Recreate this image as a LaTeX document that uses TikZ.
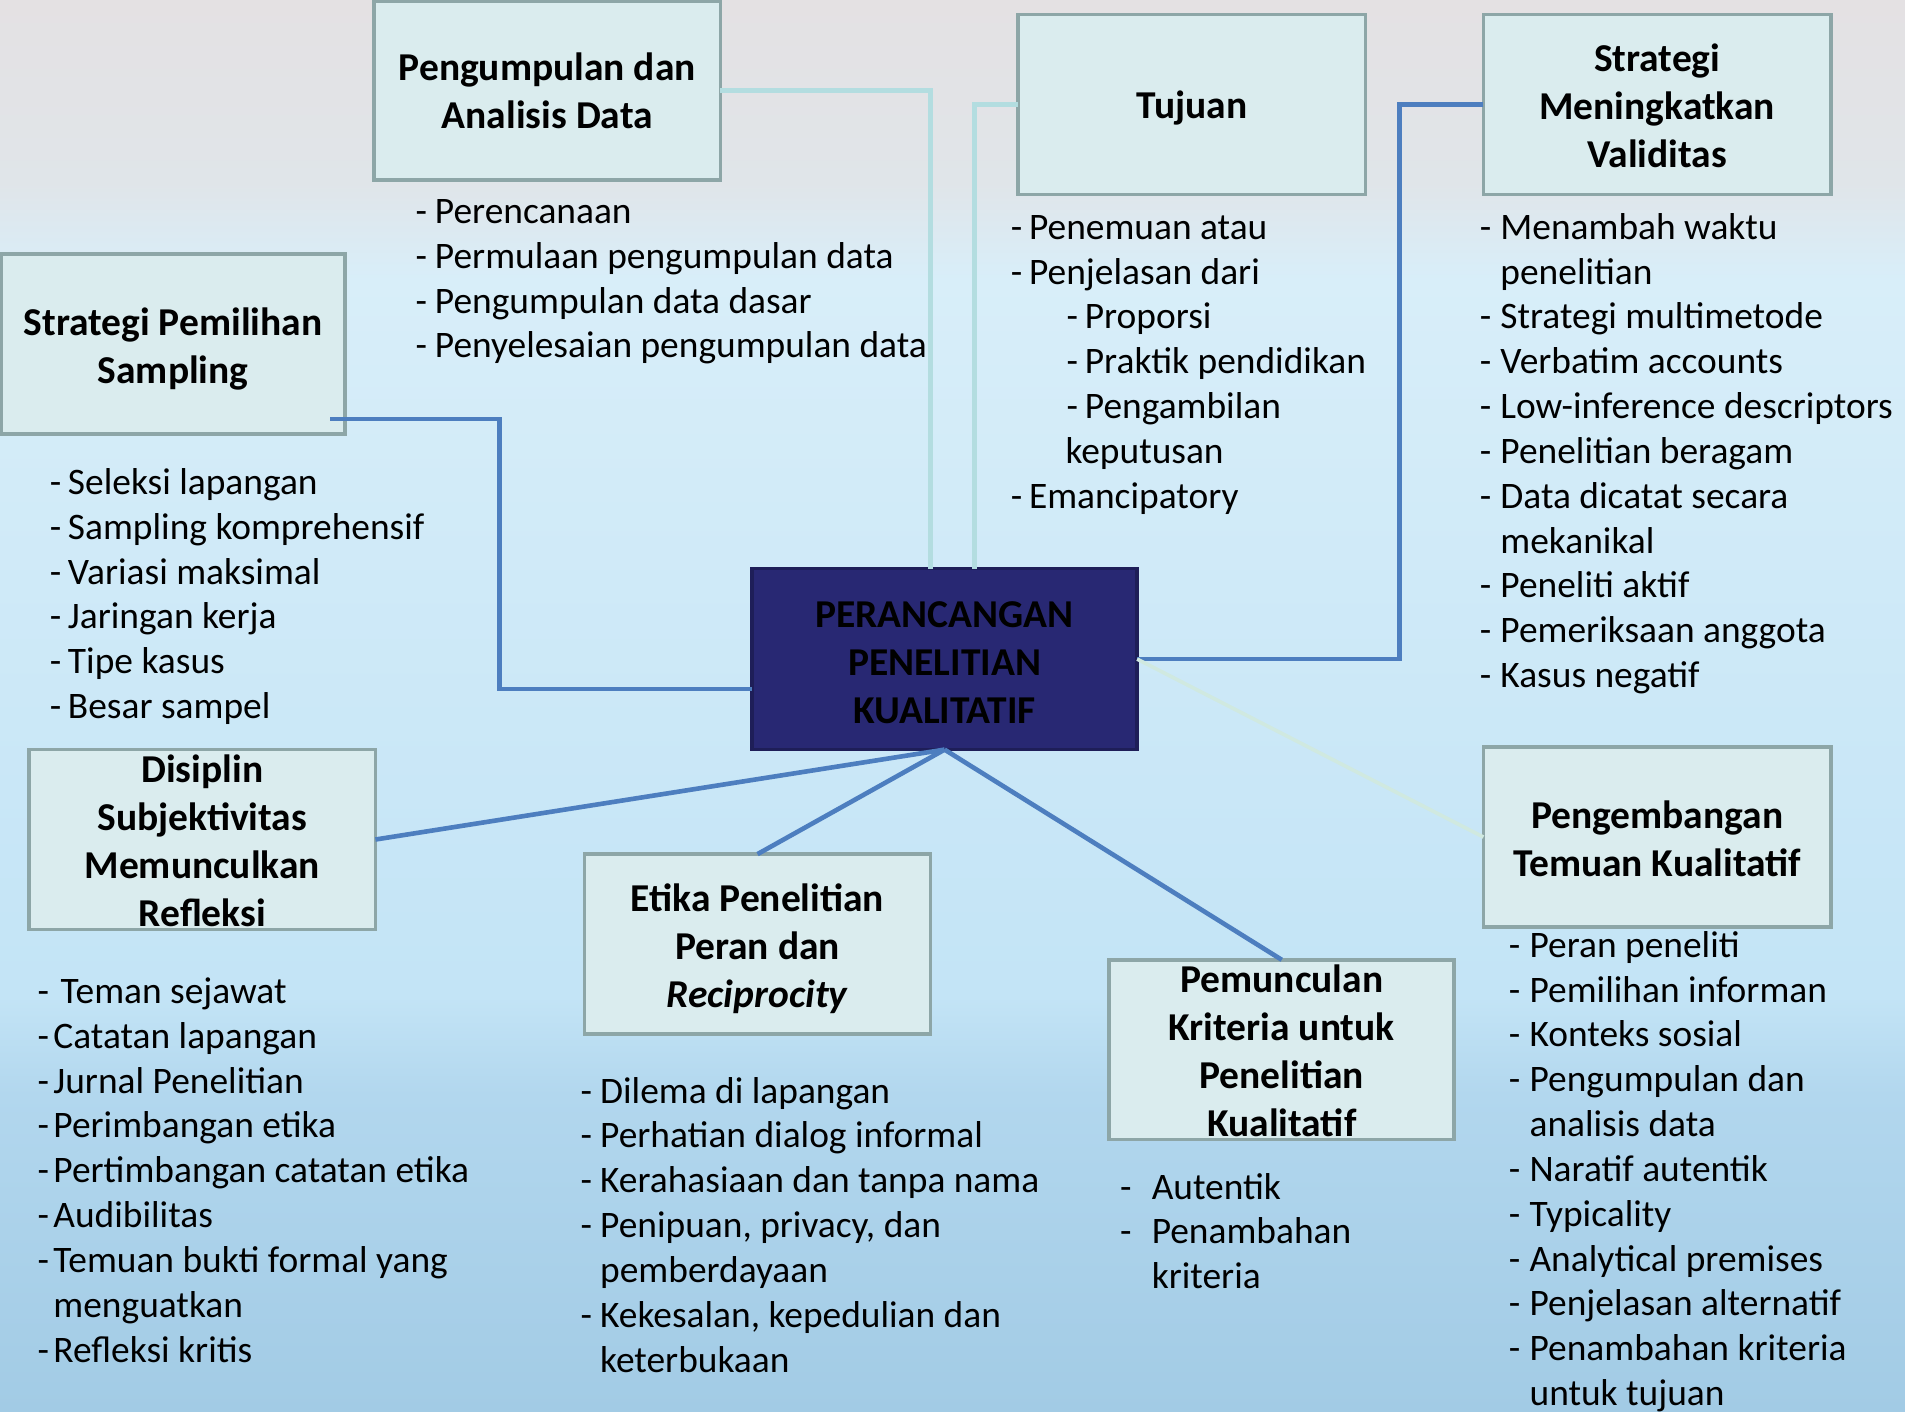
\documentclass[tikz,border=0pt]{standalone}
\usepackage{fontspec}
\setmainfont{Carlito}
\definecolor{boxfill}{HTML}{DAECEE}
\definecolor{boxline}{HTML}{8DA6A7}
\definecolor{navy}{HTML}{282873}
\definecolor{navyline}{HTML}{1E1E58}
\definecolor{blueline}{HTML}{4D7EBF}
\definecolor{tealline}{HTML}{B3DDE0}
\definecolor{paleline}{HTML}{D0E9E0}
\definecolor{bgA}{HTML}{E4E1E3}
\definecolor{bgB}{HTML}{E0E5E9}
\definecolor{bgC}{HTML}{D8EEF9}
\definecolor{bgD}{HTML}{C3E4F6}
\definecolor{bgE}{HTML}{B2D7EE}
\definecolor{bgF}{HTML}{A2CBE5}
\newcommand\dl[2]{\makebox[#1pt][l]{-}#2}
\begin{document}
\begin{tikzpicture}[x=1pt,y=-1pt,
 tbox/.style={draw=boxline, fill=boxfill, line width=3pt, rectangle, inner sep=0pt, outer sep=0pt,
   minimum width=285pt, minimum height=148pt},
 cbox/.style={tbox, draw=navyline, fill=navy, minimum width=317pt, minimum height=149pt},
 ttl/.style={inner sep=0pt, outer sep=0pt, align=center,
   font=\fontsize{32.5}{39.5}\selectfont\bfseries, text=black},
 lst/.style={anchor=north west, inner sep=0pt, outer sep=0pt, align=left,
   font=\fontsize{30.8}{36.9}\selectfont, text=black},
 bconn/.style={draw=blueline, line width=3.8pt},
 tconn/.style={draw=tealline, line width=3.6pt},
 pconn/.style={draw=paleline, line width=3pt}]
\useasboundingbox (0,0) rectangle (1568,1162);
% background
\shade[top color=bgA, bottom color=bgB] (0,0) rectangle (1568,150.5);
\shade[top color=bgB, bottom color=bgC] (0,150) rectangle (1568,230.5);
\shade[top color=bgC, bottom color=bgD] (0,230) rectangle (1568,820.5);
\shade[top color=bgD, bottom color=bgE] (0,820) rectangle (1568,900.5);
\shade[top color=bgE, bottom color=bgF] (0,900) rectangle (1568,1162);

% boxes
\node[tbox, minimum height=147pt] (b1) at (450.5,74.5) {};
\node[tbox, minimum width=286pt] (b2) at (981,86) {};
\node[tbox, minimum width=286pt] (b3) at (1364,86) {};
\node[tbox, minimum width=283pt] (b4) at (142.5,283) {};
\node[cbox] (c) at (777.5,542.5) {};
\node[tbox] (b6) at (166.5,691) {};
\node[tbox] (b7) at (623.5,777) {};
\node[tbox, minimum width=284pt] (b8) at (1055,864) {};
\node[tbox, minimum width=286pt] (b9) at (1364,689) {};

% box texts
\node[ttl] (t1) at ([shift={(0,0)}]b1.center) {Pengumpulan dan\\Analisis Data};
\node[ttl] (t2) at ([shift={(0,3)}]b2.center) {Tujuan};
\node[ttl] (t3) at ([shift={(0,1)}]b3.center) {Strategi\\Meningkatkan\\Validitas};
\node[ttl] (t4) at ([shift={(0,4)}]b4.center) {Strategi Pemilihan\\Sampling};
\node[ttl] (tc) at ([shift={(0,3)}]c.center) {PERANCANGAN\\PENELITIAN\\KUALITATIF};
\node[ttl] (t6) at ([shift={(0,1)}]b6.center) {Disiplin\\Subjektivitas\\Memunculkan\\Refleksi};
\node[ttl] (t7) at ([shift={(0,4)}]b7.center) {Etika Penelitian\\Peran dan\\\textit{Reciprocity}};
\node[ttl] (t8) at ([shift={(0,1)}]b8.center) {Pemunculan\\Kriteria untuk\\Penelitian\\Kualitatif};
\node[ttl] (t9) at ([shift={(0,1)}]b9.center) {Pengembangan\\Temuan Kualitatif};

% connectors
\draw[tconn] (b1.east) -| ([shift={(-11.5,0)}]c.north);
\draw[tconn] (b2.west) -| ([shift={(24.5,0)}]c.north);
\draw[bconn] (b3.west) -- ++(-69,0) |- (c.east);
\draw[bconn] ([shift={(-12,-12)}]b4.south east) -- ++(139,0) |- ([shift={(0,24.5)}]c.west);
\draw[bconn] (c.south) -- (b6.east);
\draw[bconn] (c.south) -- (b7.north);
\draw[bconn] (c.south) -- (b8.north);
\draw[pconn] (c.east) -- (b9.west);

% lists
\node[lst] (la) at (342,158.1) {\strut\dl{16}{Perencanaan}\\\dl{16}{Permulaan pengumpulan data}\\\dl{16}{Pengumpulan data dasar}\\\dl{16}{Penyelesaian pengumpulan data}};
\node[lst] (lb) at (832,171.1) {\strut\dl{15}{Penemuan atau}\\\dl{15}{Penjelasan dari}\\\hspace*{46pt}\dl{15}{Proporsi}\\\hspace*{46pt}\dl{15}{Praktik pendidikan}\\\hspace*{46pt}\dl{15}{Pengambilan}\\\hspace*{45pt}keputusan\\\dl{15}{Emancipatory}};
\node[lst] (lc) at (1218,171.1) {\strut\dl{17}{Menambah waktu}\\\hspace*{17pt}penelitian\\\dl{17}{Strategi multimetode}\\\dl{17}{Verbatim accounts}\\\dl{17}{Low-inference descriptors}\\\dl{17}{Penelitian beragam}\\\dl{17}{Data dicatat secara}\\\hspace*{17pt}mekanikal\\\dl{17}{Peneliti aktif}\\\dl{17}{Pemeriksaan anggota}\\\dl{17}{Kasus negatif}};
\node[lst] (ld) at (41,381.1) {\strut\dl{15}{Seleksi lapangan}\\\dl{15}{Sampling komprehensif}\\\dl{15}{Variasi maksimal}\\\dl{15}{Jaringan kerja}\\\dl{15}{Tipe kasus}\\\dl{15}{Besar sampel}};
\node[lst] (le) at (31,800.1) {\strut\dl{19}{Teman sejawat}\\\dl{13}{Catatan lapangan}\\\dl{13}{Jurnal Penelitian}\\\dl{13}{Perimbangan etika}\\\dl{13}{Pertimbangan catatan etika}\\\dl{13}{Audibilitas}\\\dl{13}{Temuan bukti formal yang}\\\hspace*{13pt}menguatkan\\\dl{13}{Refleksi kritis}};
\node[lst] (lf) at (478,882.1) {\strut\dl{16}{Dilema di lapangan}\\\dl{16}{Perhatian dialog informal}\\\dl{16}{Kerahasiaan dan tanpa nama}\\\dl{16}{Penipuan, privacy, dan}\\\hspace*{16pt}pemberdayaan\\\dl{16}{Kekesalan, kepedulian dan}\\\hspace*{16pt}keterbukaan};
\node[lst] (lg) at (922,961.1) {\strut\dl{26}{Autentik}\\\dl{26}{Penambahan}\\\hspace*{26pt}kriteria};
\node[lst] (lh) at (1242,762.1) {\strut\dl{17}{Peran peneliti}\\\dl{17}{Pemilihan informan}\\\dl{17}{Konteks sosial}\\\dl{17}{Pengumpulan dan}\\\hspace*{17pt}analisis data\\\dl{17}{Naratif autentik}\\\dl{17}{Typicality}\\\dl{17}{Analytical premises}\\\dl{17}{Penjelasan alternatif}\\\dl{17}{Penambahan kriteria}\\\hspace*{17pt}untuk tujuan};
\end{tikzpicture}
\end{document}
